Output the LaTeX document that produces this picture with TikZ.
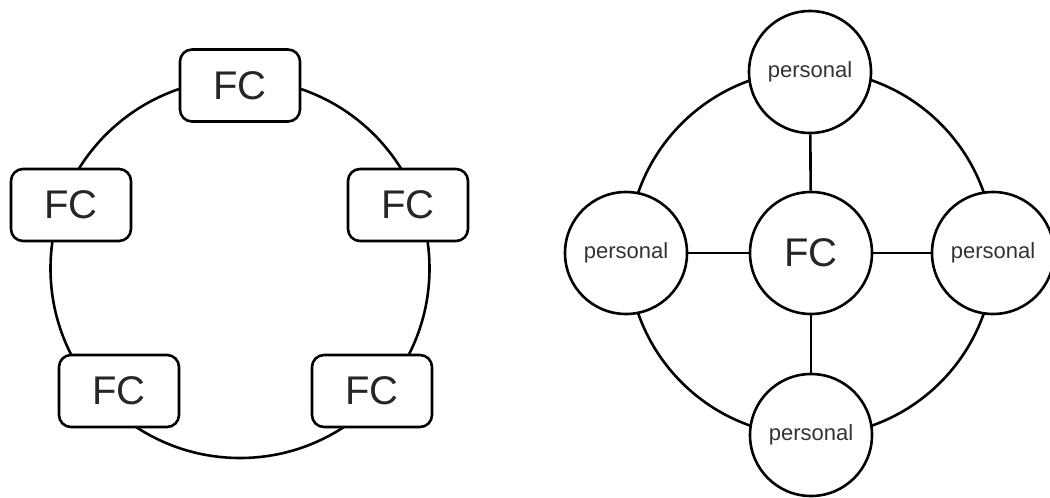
\documentclass[tikz,border=0pt]{standalone}
\usepackage{fontspec}
\setmainfont{Liberation Sans}
\begin{document}
\begin{tikzpicture}[x=1pt,y=-1pt,line width=2.6pt,
  fcbox/.style={draw,fill=white,rounded corners=12pt,minimum width=120pt,minimum height=72pt,inner sep=0pt,text=black!85,font=\fontsize{40}{40}\selectfont},
  pers/.style={draw,fill=white,circle,minimum size=122pt,inner sep=0pt,text=black!80,font=\fontsize{22}{22}\selectfont},
  hub/.style={draw,fill=white,circle,minimum size=122pt,inner sep=0pt,text=black!85,font=\fontsize{40}{40}\selectfont}]
\useasboundingbox (0,0) rectangle (1050,498);
% left ring
\coordinate (lc) at (240,268.5);
\draw (lc) circle[radius=189.5];
\node[fcbox] (f1) at (240,85.5) {FC};
\node[fcbox] (f2) at (71,205) {FC};
\node[fcbox] (f3) at (408,205) {FC};
\node[fcbox] (f4) at (119,391) {FC};
\node[fcbox] (f5) at (372,391) {FC};
% right ring
\coordinate (rc) at (811,253);
\draw (rc) circle[radius=183];
\node[hub] (hub) at (811,253) {FC};
\node[pers] (pt) at (810,72) {personal};
\node[pers] (pl) at (626,253) {personal};
\node[pers] (pr) at (993,253) {personal};
\node[pers] (pb) at (811,435) {personal};
\draw (hub) -- (pt);
\draw (hub) -- (pl);
\draw (hub) -- (pr);
\draw (hub) -- (pb);
\end{tikzpicture}
\end{document}
